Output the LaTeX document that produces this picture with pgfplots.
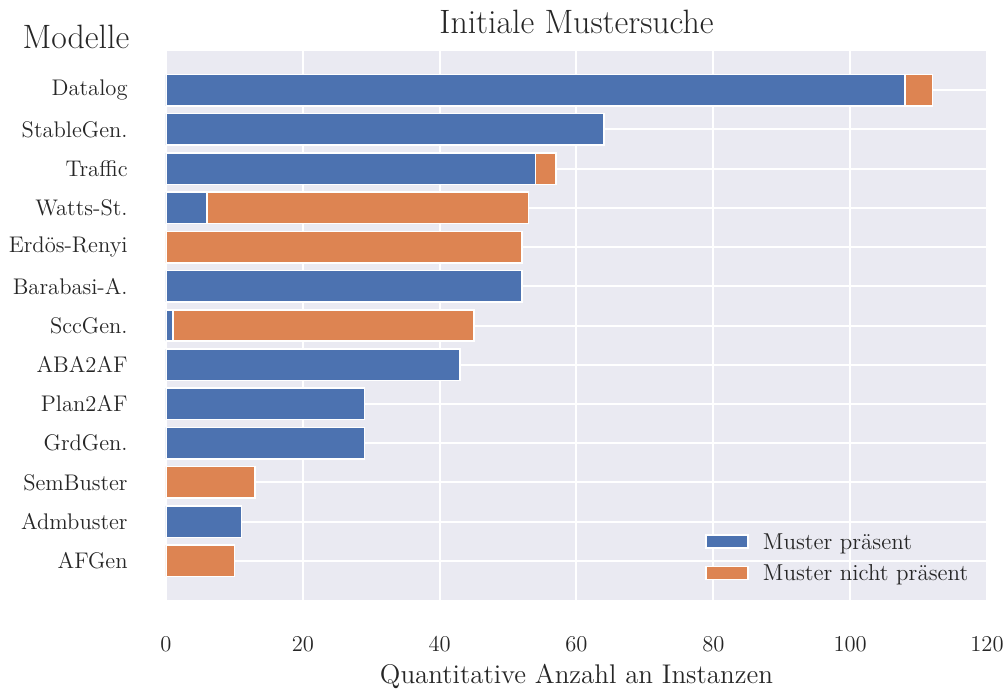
\documentclass[border=0pt]{standalone}
\usepackage{fontspec}
\usepackage{pgfplots}
\pgfplotsset{compat=1.18}

\definecolor{sbblue}{RGB}{76,114,176}
\definecolor{sborange}{RGB}{221,132,82}
\definecolor{sbbg}{RGB}{234,234,242}
\definecolor{sbtext}{RGB}{38,38,38}

\newcommand{\ticksize}{\fontsize{11.3}{13}\selectfont}
\newcommand{\legsize}{\fontsize{11.5}{13}\selectfont}
\newcommand{\titlesize}{\fontsize{16.9}{19}\selectfont}
\newcommand{\labelsize}{\fontsize{13.5}{16}\selectfont}

\begin{document}
\begin{tikzpicture}
\begin{axis}[
  at={(0pt,0pt)}, anchor=south west,
  scale only axis, width=410.5pt, height=274.5pt,
  xbar stacked, bar width=0.8,
  xmin=0, xmax=120, ymin=-1, ymax=13, y dir=reverse,
  xtick={0,20,...,120}, ytick={0,...,12},
  yticklabels={Datalog, StableGen., Traffic, Watts-St., Erdös-Renyi, Barabasi-A., SccGen., ABA2AF, Plan2AF, GrdGen., SemBuster, Admbuster, AFGen},
  /pgf/number format/assume math mode=true,
  axis background/.style={fill=sbbg},
  axis line style={draw=none},
  major tick length=0pt,
  grid=major, major grid style={white, line width=1pt},
  tick label style={font=\ticksize, text=sbtext},
  yticklabel style={anchor=east, inner sep=0pt, xshift=-19pt},
  xticklabel style={anchor=base, inner sep=0pt, yshift=-25.5pt},
  every axis title shift=0pt,
  title={Initiale Mustersuche},
  title style={font=\titlesize, text=sbtext, at={(axis description cs:0.5,1)}, anchor=base, inner sep=0pt, yshift=9pt},
  xlabel={Quantitative Anzahl an Instanzen},
  xlabel style={font=\labelsize, text=sbtext, at={(axis description cs:0.5,0)}, anchor=base, inner sep=0pt, yshift=-41.5pt},
  every axis plot/.append style={draw=white, line width=0.75pt},
  legend image code/.code={\draw[#1, draw=white, line width=0.75pt] (0pt,-1.75pt) rectangle (21pt,4.75pt);},
  legend cell align=left,
  legend style={draw=none, fill=none, inner sep=0pt, font=\legsize, text=sbtext,
    at={(rel axis cs:0.6565,0.1202)}, anchor=north west,
    column sep=7pt, row sep=5.5pt,
    nodes={inner sep=0pt, text height=7.5pt, text depth=2.5pt}},
]
% present pattern
\addplot[fill=sbblue] coordinates {
  (108,0) (64,1) (54,2) (6,3) (0,4) (52,5) (1,6) (43,7) (29,8) (29,9) (0,10) (11,11) (0,12)};
% pattern not present
\addplot[fill=sborange] coordinates {
  (4,0) (0,1) (3,2) (47,3) (52,4) (0,5) (44,6) (0,7) (0,8) (0,9) (13,10) (0,11) (10,12)};
\legend{Muster präsent, Muster nicht präsent}
\end{axis}
\node[font=\titlesize, text=sbtext, anchor=base, inner sep=0pt] at (-45pt,275.5pt) {Modelle};
\pgfresetboundingbox
\path (-83pt,-45.5pt) rectangle (421pt,300pt);
\end{tikzpicture}
\end{document}
